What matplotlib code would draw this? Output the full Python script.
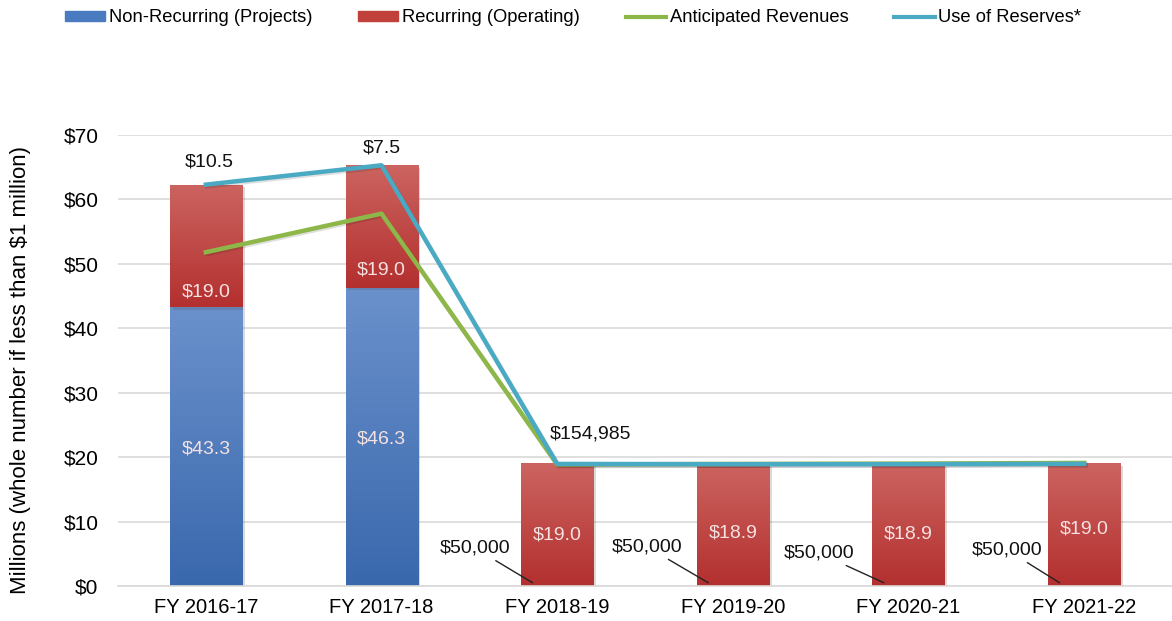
import matplotlib.pyplot as plt
import matplotlib.patheffects as pe
import numpy as np
from matplotlib.colors import LinearSegmentedColormap
from matplotlib.patches import Patch
from matplotlib.lines import Line2D

plt.rcParams['font.family'] = ['Liberation Sans', 'DejaVu Sans']

# data (millions)
years = ['FY 2016-17', 'FY 2017-18', 'FY 2018-19', 'FY 2019-20', 'FY 2020-21', 'FY 2021-22']
non_recurring = [43.3, 46.3, 0.05, 0.05, 0.05, 0.05]
recurring = [19.0, 19.0, 19.0, 18.9, 18.9, 19.0]
anticipated = [51.8, 57.8, 18.85, 18.95, 19.0, 19.1]
reserves_line = [62.3, 65.3, 18.95, 18.9, 18.9, 18.95]
reserve_labels = ['$10.5', '$7.5', '$154,985']
nr_labels = ['$43.3', '$46.3', '$50,000', '$50,000', '$50,000', '$50,000']
rec_labels = ['$19.0', '$19.0', '$19.0', '$18.9', '$18.9', '$19.0']

blue_cm = LinearSegmentedColormap.from_list('b', ['#3a68ad', '#6a91cb'])
red_cm = LinearSegmentedColormap.from_list('r', ['#b3302f', '#cc6460'])
grad = np.linspace(0, 1, 256).reshape(-1, 1)

fig = plt.figure(figsize=(11.72, 6.21), dpi=100)
ax = fig.add_axes([0.1007, 0.0564, 0.8993, 0.7262])
x = np.arange(len(years))
w = 0.41

def grad_bars(bottoms, heights, cmap):
    bars = ax.bar(x, heights, w, bottom=bottoms, color='none', zorder=2)
    for b in bars:
        b.set_path_effects([pe.SimplePatchShadow(offset=(2, -2), alpha=0.2)])
        x0, y0 = b.get_x(), b.get_y()
        im = ax.imshow(grad, cmap=cmap, origin='lower', aspect='auto',
                       extent=[x0, x0 + b.get_width(), y0, y0 + b.get_height()], zorder=2)
        im.set_clip_path(b)
    return bars

grad_bars([0] * 6, non_recurring, blue_cm)
grad_bars(non_recurring, recurring, red_cm)

shadow = [pe.SimpleLineShadow(offset=(1, -1.2), alpha=0.12), pe.Normal()]
ax.plot(x, anticipated, color='#8db749', lw=3.2, zorder=4, path_effects=shadow)
ax.plot(x, reserves_line, color='#4aaac4', lw=3.2, zorder=5, path_effects=shadow)

lab_col = '#f5e1e0'
rec_y = [45.6, 49.1, 7.9, 8.2, 8.1, 8.8]
for i in range(len(years)):
    ax.text(i, rec_y[i], rec_labels[i], ha='center', va='center',
            fontsize=14, color=lab_col, zorder=6)
for i in range(2):
    ax.text(i, non_recurring[i] / 2 - 0.4, nr_labels[i], ha='center', va='center',
            fontsize=14, color=lab_col, zorder=6)

# $50,000 labels with leader lines
offsets = [(-0.47, 5.9), (-0.49, 6.1), (-0.51, 5.1), (-0.44, 5.6)]
for k, i in enumerate(range(2, 6)):
    dx, ty = offsets[k]
    ax.annotate(nr_labels[i], xy=(i - 0.14, 0.5), xytext=(i + dx, ty),
                ha='center', va='center', fontsize=14, color='#111111',
                arrowprops=dict(arrowstyle='-', color='#222222', lw=1.0,
                                shrinkA=2, shrinkB=0), zorder=6)

ax.text(0.02, 65.8, reserve_labels[0], ha='center', va='center', fontsize=14, color='#111111')
ax.text(1.0, 68.0, reserve_labels[1], ha='center', va='center', fontsize=14, color='#111111')
ax.text(2.19, 23.6, reserve_labels[2], ha='center', va='center', fontsize=14, color='#111111')

ax.set_xlim(-0.5, 5.5)
ax.set_ylim(0, 70)
ax.set_yticks(range(0, 71, 10))
ax.set_yticklabels(['$%d' % v for v in range(0, 71, 10)], fontsize=15)
ax.set_xticks(x)
ax.set_xticklabels(years, fontsize=14.5)
ax.tick_params(axis='y', length=0, pad=14)
ax.tick_params(axis='x', length=0, pad=9)
ax.grid(axis='y', color='#d9d9d9', lw=1.2, zorder=0)
ax.set_axisbelow(True)
for s in ['top', 'right', 'left']:
    ax.spines[s].set_visible(False)
ax.spines['bottom'].set_color('#d9d9d9')
ax.spines['bottom'].set_linewidth(1.2)
ax.set_ylabel('Millions (whole number if less than $1 million)', fontsize=16)
ax.yaxis.set_label_coords(-0.0825, 0.48)

handles = [Patch(color='#4a7bc0'), Patch(color='#c0403c'),
           Line2D([0], [0], color='#8db749', lw=3), Line2D([0], [0], color='#4aaac4', lw=3)]
labels = ['Non-Recurring (Projects)', 'Recurring (Operating)', 'Anticipated Revenues', 'Use of Reserves*']
fig.legend(handles, labels, loc='center', bbox_to_anchor=(0.489, 1 - 18 / 621), ncol=4,
           frameon=False, fontsize=13.2, handlelength=2.2, handleheight=0.4,
           handletextpad=0.2, columnspacing=2.5)

fig.savefig('out.png', dpi=100)
